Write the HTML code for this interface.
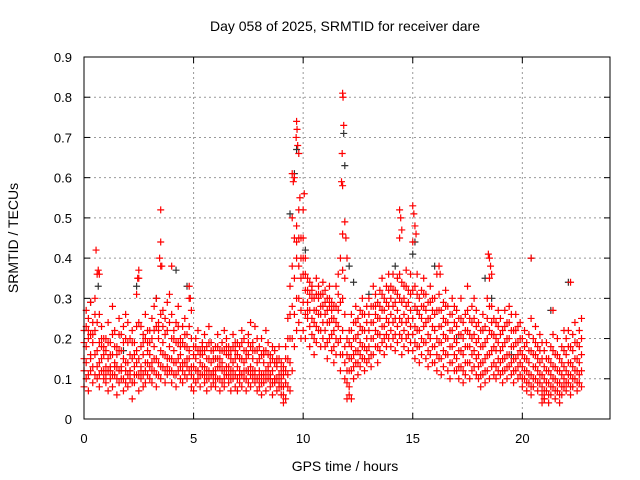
<!DOCTYPE html>
<html><head><meta charset="utf-8"><style>
body{margin:0;background:#fff;}
svg{display:block;font-family:"Liberation Sans",sans-serif;}
</style></head><body>
<svg id="chart" width="640" height="480" viewBox="0 0 640 480">
<rect width="640" height="480" fill="#fff"/>
<text x="345" y="31" font-size="14" text-anchor="middle" fill="#000">Day 058 of 2025, SRMTID for receiver dare</text>
<text x="345" y="471" font-size="14" text-anchor="middle" fill="#000">GPS time / hours</text>
<text transform="translate(18,238) rotate(-90)" font-size="14" text-anchor="middle" fill="#000">SRMTID / TECUs</text>
<g id="grid"></g>
<g id="ticks"></g>
<g id="dark"></g>
<g id="red"></g>
<rect x="84" y="57" width="526" height="362" fill="none" stroke="#000" stroke-width="1"/>
</svg>
<script>
const xTicks=[0,5,10,15,20];
const yTicks=[0,0.1,0.2,0.3,0.4,0.5,0.6,0.7,0.8,0.9];
const yTickLabels=["0","0.1","0.2","0.3","0.4","0.5","0.6","0.7","0.8","0.9"];
const slotStep=0.1;
const lowVals=[.08,.10,.07,.12,.09,.11,.10,.08,.12,.10,
.09,.07,.10,.08,.11,.06,.09,.10,.07,.09,
.08,.10,.05,.09,.11,.07,.10,.08,.09,.11,
.10,.09,.12,.08,.11,.10,.13,.09,.11,.12,
.09,.11,.08,.12,.10,.09,.11,.10,.12,.08,
.07,.09,.10,.08,.11,.09,.07,.10,.08,.09,
.08,.10,.07,.09,.08,.11,.09,.07,.10,.08,
.07,.09,.08,.10,.07,.09,.08,.10,.09,.07,
.08,.06,.09,.07,.10,.08,.06,.09,.07,.08,
.06,.04,.05,.08,.07,.12,.18,.22,.24,.20,
.22,.20,.25,.18,.21,.16,.19,.22,.18,.20,
.18,.15,.20,.17,.14,.16,.19,.12,.16,.10,
.05,.08,.12,.10,.14,.11,.13,.15,.12,.14,
.15,.13,.16,.18,.14,.17,.19,.16,.18,.20,
.18,.20,.17,.19,.21,.16,.18,.20,.17,.19,
.17,.15,.18,.14,.16,.19,.15,.13,.16,.14,
.14,.12,.15,.11,.13,.16,.12,.10,.14,.12,
.12,.10,.13,.09,.11,.14,.10,.12,.13,.11,
.10,.08,.11,.09,.12,.10,.13,.11,.10,.12,
.11,.09,.12,.10,.13,.11,.09,.12,.10,.11,
.08,.10,.07,.09,.06,.08,.10,.07,.09,.06,
.05,.07,.04,.06,.08,.05,.07,.04,.06,.08,
.07,.09,.06,.08,.10,.07,.09,.08];
const lowMidVals=[.12,.14,.11,.15,.13,.16,.13,.11,.15,.12,
.11,.12,.13,.11,.13,.10,.12,.13,.10,.12,
.11,.12,.09,.11,.14,.11,.12,.11,.12,.14,
.13,.12,.15,.11,.14,.13,.16,.12,.13,.15,
.12,.14,.11,.15,.13,.12,.14,.13,.15,.11,
.10,.12,.12,.11,.13,.11,.10,.12,.11,.11,
.10,.13,.10,.12,.10,.13,.11,.10,.12,.11,
.10,.11,.11,.12,.10,.12,.11,.12,.11,.10,
.10,.09,.11,.10,.12,.10,.09,.10,.10,.09,
.08,.06,.09,.11,.14,.20,.26,.30,.30,.27,
.29,.26,.27,.23,.25,.20,.23,.26,.22,.24,
.22,.19,.24,.21,.18,.20,.23,.16,.22,.14,
.09,.12,.15,.13,.17,.14,.16,.18,.15,.17,
.18,.16,.20,.22,.18,.21,.23,.20,.21,.24,
.22,.24,.21,.23,.25,.20,.22,.24,.21,.23,
.21,.19,.22,.18,.20,.23,.19,.17,.20,.18,
.18,.16,.19,.15,.17,.20,.16,.14,.18,.16,
.15,.13,.17,.12,.14,.18,.14,.16,.17,.15,
.13,.11,.14,.12,.16,.16,.17,.14,.13,.15,
.14,.12,.15,.13,.16,.14,.12,.15,.13,.14,
.10,.12,.09,.11,.08,.10,.13,.09,.11,.08,
.07,.09,.06,.08,.10,.07,.09,.06,.08,.10,
.09,.11,.08,.10,.12,.09,.11,.12];
const midVals=[.15,.18,.20,.16,.19,.22,.17,.14,.18,.16,
.13,.15,.12,.16,.14,.13,.17,.12,.15,.14,
.14,.12,.15,.13,.17,.15,.13,.16,.14,.17,
.16,.14,.18,.15,.20,.17,.19,.16,.15,.18,
.15,.17,.14,.19,.16,.14,.18,.15,.17,.13,
.13,.15,.12,.14,.16,.13,.12,.15,.14,.12,
.12,.15,.13,.14,.12,.16,.13,.12,.14,.15,
.13,.12,.15,.14,.12,.16,.13,.15,.12,.14,
.12,.11,.14,.12,.13,.11,.12,.10,.13,.11,
.10,.08,.12,.15,.20,.28,.35,.40,.38,.35,
.36,.32,.29,.27,.30,.24,.27,.30,.26,.28,
.26,.24,.28,.25,.22,.24,.27,.20,.30,.18,
.12,.15,.18,.16,.20,.17,.19,.22,.18,.20,
.22,.20,.24,.26,.21,.25,.27,.23,.25,.28,
.26,.28,.25,.27,.30,.24,.26,.28,.25,.27,
.25,.23,.27,.22,.25,.28,.24,.21,.25,.23,
.22,.20,.23,.19,.21,.24,.20,.18,.22,.20,
.19,.17,.21,.16,.18,.22,.18,.20,.21,.19,
.16,.14,.18,.15,.20,.22,.21,.18,.17,.19,
.17,.15,.19,.16,.20,.18,.15,.19,.16,.17,
.13,.15,.12,.14,.11,.13,.16,.12,.14,.11,
.10,.12,.09,.11,.13,.10,.12,.09,.11,.13,
.12,.14,.11,.13,.15,.12,.14,.16];
const midHighVals=[.19,.23,.22,.21,.21,.26,.24,.19,.20,.18,
.17,.19,.16,.21,.18,.16,.21,.17,.19,.20,
.19,.16,.19,.16,.23,.24,.18,.19,.20,.19,
.19,.20,.22,.23,.22,.26,.23,.21,.22,.24,
.20,.20,.19,.23,.18,.19,.21,.18,.23,.20,
.16,.18,.17,.16,.18,.17,.15,.19,.17,.15,
.15,.18,.15,.17,.17,.18,.16,.15,.18,.17,
.16,.15,.19,.17,.15,.19,.18,.17,.17,.17,
.15,.16,.16,.17,.16,.14,.15,.14,.14,.15,
.12,.11,.15,.20,.26,.38,.45,.44,.45,.40,
.40,.36,.32,.31,.32,.27,.31,.31,.28,.31,
.29,.27,.30,.27,.25,.28,.31,.29,.37,.26,
.16,.19,.22,.20,.24,.21,.23,.26,.22,.24,
.26,.24,.28,.28,.25,.28,.31,.27,.29,.32,
.30,.32,.29,.31,.36,.29,.30,.33,.29,.31,
.32,.28,.31,.26,.28,.31,.27,.25,.29,.27,
.26,.27,.27,.23,.25,.28,.24,.22,.26,.24,
.23,.21,.25,.20,.22,.27,.21,.24,.25,.23,
.20,.18,.22,.19,.25,.28,.24,.21,.20,.23,
.21,.18,.23,.20,.24,.22,.18,.22,.19,.20,
.16,.18,.15,.17,.17,.16,.19,.15,.17,.15,
.13,.15,.12,.14,.17,.13,.16,.12,.14,.17,
.16,.18,.14,.17,.19,.15,.18,.20];
const highVals=[.22,.27,.25,.29,.24,.30,.36,.26,.23,.20,
.20,.24,.19,.28,.22,.18,.25,.21,.23,.26,
.24,.20,.22,.19,.31,.35,.23,.21,.26,.22,
.22,.25,.28,.30,.24,.38,.27,.25,.29,.31,
.26,.22,.24,.28,.20,.23,.25,.21,.30,.27,
.18,.20,.22,.17,.19,.21,.18,.23,.19,.17,
.18,.21,.17,.19,.22,.20,.18,.17,.21,.19,
.19,.18,.22,.20,.17,.21,.24,.19,.23,.20,
.18,.20,.17,.22,.19,.16,.18,.17,.15,.18,
.14,.13,.18,.25,.33,.50,.60,.48,.52,.45,
.45,.40,.35,.34,.33,.30,.35,.33,.31,.34,
.32,.30,.33,.29,.28,.33,.36,.40,.46,.35,
.20,.22,.26,.24,.28,.25,.27,.30,.26,.28,
.30,.28,.33,.31,.29,.32,.35,.30,.33,.36,
.33,.36,.32,.35,.45,.34,.33,.37,.32,.36,
.44,.33,.36,.30,.32,.35,.31,.29,.33,.30,
.30,.36,.31,.27,.29,.32,.28,.26,.30,.28,
.27,.25,.30,.24,.26,.33,.25,.28,.30,.27,
.24,.22,.26,.23,.30,.35,.28,.25,.24,.27,
.25,.22,.27,.24,.28,.26,.22,.26,.23,.24,
.20,.22,.19,.21,.25,.20,.23,.18,.21,.19,
.17,.19,.15,.18,.21,.16,.20,.15,.18,.22,
.20,.22,.18,.21,.24,.19,.22,.25];
const spikeTimes=[0.55,0.65,0.7,2.5,2.45,3.5,3.5,3.45,3.55,4.0,4.8,4.85,9.5,9.55,9.7,9.72,9.68,9.75,9.8,9.85,10.05,10.0,11.8,11.82,11.85,11.78,11.75,11.8,11.9,11.95,12.0,12.1,14.4,14.45,14.5,15.0,15.05,15.1,15.15,16.2,16.25,18.45,18.5,18.55,18.6,20.4,21.4,22.2,12.2,20.9,21.0];
const spikeVals=[.42,.37,.36,.37,.35,.52,.44,.40,.38,.38,.33,.30,.61,.59,.74,.72,.70,.68,.66,.55,.56,.52,.81,.80,.73,.66,.59,.58,.49,.45,.40,.06,.52,.50,.47,.53,.51,.48,.46,.38,.36,.41,.40,.38,.36,.40,.27,.34,.05,.04,.05];
const darkTimes=[0.3,0.65,2.4,3.3,4.2,4.7,9.4,9.6,9.7,10.1,11.85,11.9,12.1,12.3,14.2,15.1,15.0,15.2,16.0,18.3,18.6,20.4,21.3,22.1,1.8,7.5,13.0,17.0,19.5,6.0];
const darkVals=[.29,.33,.33,.30,.37,.33,.51,.61,.67,.42,.71,.63,.38,.34,.38,.44,.41,.27,.38,.35,.30,.40,.27,.34,.17,.12,.31,.20,.16,.15];

const X0=84,X1=610,Y0=419,Y1=57,XMAX=24,YMAX=0.9;
const xs=t=>X0+(X1-X0)*t/XMAX;
const ys=v=>Y0-(Y0-Y1)*v/YMAX;
const NS="http://www.w3.org/2000/svg";
const grid=document.getElementById('grid'),ticks=document.getElementById('ticks');
function mk(tag,attrs,parent){const e=document.createElementNS(NS,tag);for(const k in attrs)e.setAttribute(k,attrs[k]);parent.appendChild(e);return e;}
yTicks.forEach((v,i)=>{
  const y=ys(v);
  if(i>0&&i<yTicks.length-1){const g=mk('line',{x1:X0,x2:X1,y1:y,y2:y,stroke:'#999','stroke-dasharray':'2,3'},grid);
  
  }
  mk('line',{x1:X0,x2:X0+6,y1:y,y2:y,stroke:'#000'},ticks);
  mk('line',{x1:X1-6,x2:X1,y1:y,y2:y,stroke:'#000'},ticks);
  const t=mk('text',{x:X0-12,y:y+5,'font-size':13,'text-anchor':'end',fill:'#000'},ticks);
  t.textContent=yTickLabels[i];
  
  
});
xTicks.forEach(v=>{
  const x=xs(v);
  if(v>0){const g=mk('line',{x1:x,x2:x,y1:Y0,y2:Y1,stroke:'#999','stroke-dasharray':'2,3'},grid);
  
  }
  mk('line',{x1:x,x2:x,y1:Y0,y2:Y0-6,stroke:'#000'},ticks);
  mk('line',{x1:x,x2:x,y1:Y1,y2:Y1+6,stroke:'#000'},ticks);
  const t=mk('text',{x:x,y:Y0+24,'font-size':13,'text-anchor':'middle',fill:'#000'},ticks);
  t.textContent=String(v);
  
  
});
function plus(t,v,color,parent,name){
  const x=xs(t),y=ys(v);
  const p=mk('path',{d:`M${x-3.5},${y}h7M${x},${y-3.5}v7`,stroke:color,'stroke-width':1.2,fill:'none'},parent);
  
  
}
const dark=document.getElementById('dark'),red=document.getElementById('red');
darkTimes.forEach((t,i)=>plus(t,darkVals[i],'#333',dark,'dark-point'));
[lowVals,lowMidVals,midVals,midHighVals,highVals].forEach(arr=>arr.forEach((v,i)=>plus(i*slotStep,v,'#f00',red,'red-point')));
spikeTimes.forEach((t,i)=>plus(t,spikeVals[i],'#f00',red,'red-point'));
</script>
</body></html>
